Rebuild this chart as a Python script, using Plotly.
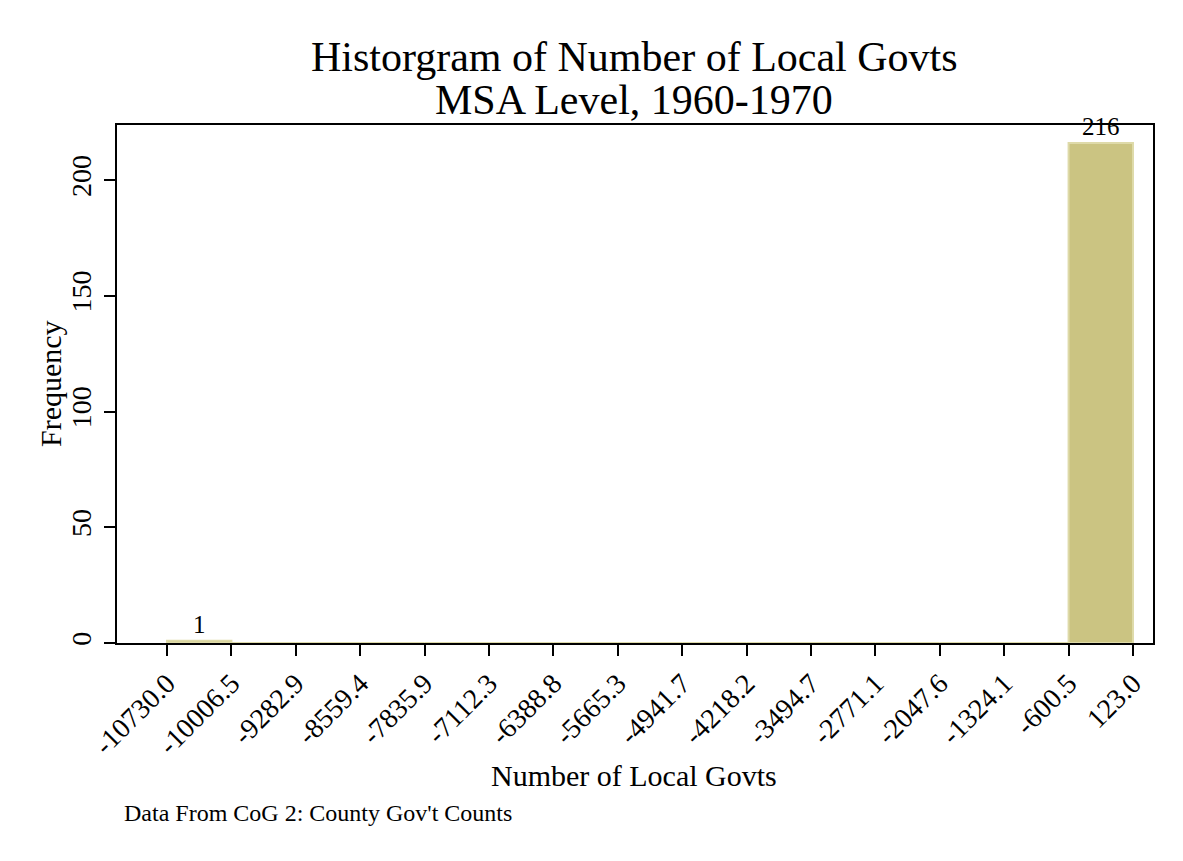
import plotly.graph_objects as go

bin_edges = [-10730.0, -10006.5, -9282.9, -8559.4, -7835.9, -7112.3, -6388.8,
             -5665.3, -4941.7, -4218.2, -3494.7, -2771.1, -2047.6, -1324.1,
             -600.5, 123.0]
tick_labels = ["-10730.0", "-10006.5", "-9282.9", "-8559.4", "-7835.9", "-7112.3",
               "-6388.8", "-5665.3", "-4941.7", "-4218.2", "-3494.7", "-2771.1",
               "-2047.6", "-1324.1", "-600.5", "123.0"]
counts = [1, 0, 0, 0, 0, 0, 0, 0, 0, 0, 0, 0, 0, 0, 216]

centers = [(bin_edges[i] + bin_edges[i + 1]) / 2 for i in range(len(counts))]
widths = [bin_edges[i + 1] - bin_edges[i] for i in range(len(counts))]
labels = [str(c) if c > 0 else "" for c in counts]

FONT = "Liberation Serif"
PW, PH = 1036, 518

fig = go.Figure()
fig.add_trace(go.Bar(
    x=centers, y=counts, width=widths,
    marker=dict(color="#cbc482", line=dict(color="#dedaa9", width=2)),
    text=labels, textposition="outside", cliponaxis=False,
    textfont=dict(family=FONT, size=25, color="black"),
))

fig.update_layout(
    width=1183, height=861,
    margin=dict(l=117, r=30, t=125, b=218),
    paper_bgcolor="white", plot_bgcolor="white",
    showlegend=False,
    font=dict(family=FONT, color="black"),
    xaxis=dict(range=[-11292, 348], tickvals=bin_edges, ticktext=tick_labels,
               tickangle=-45, ticks="outside", ticklen=11, tickwidth=1.5,
               tickcolor="black", showgrid=False, zeroline=False,
               showline=True, linecolor="black", linewidth=1.5, mirror=True,
               tickfont=dict(family=FONT, size=28, color="black")),
    yaxis=dict(range=[0, 223.8], tickvals=[0, 50, 100, 150, 200],
               tickangle=-90, ticks="outside", ticklen=11, tickwidth=1.5,
               tickcolor="black", showgrid=False, zeroline=False,
               showline=True, linecolor="black", linewidth=1.5, mirror=True,
               ticklabelstandoff=2,
               tickfont=dict(family=FONT, size=28, color="black")),
    annotations=[
        dict(text="Historgram of Number of Local Govts", xref="paper", yref="paper",
             x=(634 - 117) / PW, y=1 + (125 - 57) / PH, xanchor="center", yanchor="middle",
             showarrow=False, font=dict(family=FONT, size=42, color="black")),
        dict(text="MSA Level, 1960-1970", xref="paper", yref="paper",
             x=(634 - 117) / PW, y=1 + (125 - 100) / PH, xanchor="center", yanchor="middle",
             showarrow=False, font=dict(family=FONT, size=42, color="black")),
        dict(text="Number of Local Govts", xref="paper", yref="paper",
             x=(634 - 117) / PW, y=-(775 - 643) / PH, xanchor="center", yanchor="middle",
             showarrow=False, font=dict(family=FONT, size=30, color="black")),
        dict(text="Frequency", xref="paper", yref="paper",
             x=-(117 - 50) / PW, y=0.5, xanchor="center", yanchor="middle",
             textangle=-90, showarrow=False,
             font=dict(family=FONT, size=30, color="black")),
        dict(text="Data From CoG 2: County Gov't Counts", xref="paper", yref="paper",
             x=5 / PW, y=-(813 - 643) / PH, xanchor="left", yanchor="middle",
             showarrow=False, font=dict(family=FONT, size=24, color="black")),
    ],
)

fig.write_html("out.html")
